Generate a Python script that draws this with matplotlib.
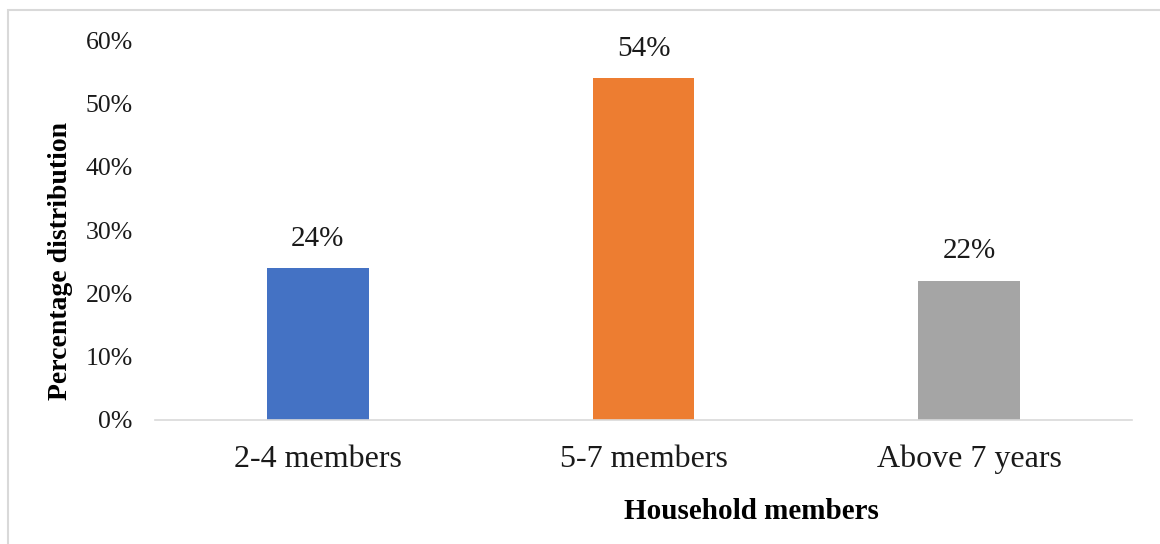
import matplotlib
matplotlib.use("Agg")
import matplotlib.pyplot as plt
from matplotlib.patches import Rectangle

# household size distribution
categories = ["2-4 members", "5-7 members", "Above 7 years"]
shares = [24, 54, 22]
bar_colors = ["#4472C4", "#ED7D31", "#A5A5A5"]
y_ticks = [0, 10, 20, 30, 40, 50, 60]

plt.rcParams['font.family'] = ['Liberation Serif', 'DejaVu Serif']

fig = plt.figure(figsize=(11.6, 5.44), dpi=100)
ax = fig.add_axes([155 / 1160, 1 - 420 / 544, 977 / 1160, 380 / 544])

x = range(len(categories))
ax.bar(x, shares, width=0.313, color=bar_colors)
for xi, v in zip(x, shares):
    ax.text(xi, v + 2.6, f"{v}%", ha="center", va="bottom", fontsize=21, color="#1a1a1a")

ax.set_xlim(-0.5, 2.5)
ax.set_ylim(0, 60)
ax.set_yticks(y_ticks)
ax.set_yticklabels([f"{t}%" for t in y_ticks], fontsize=18.5, color="#1a1a1a")
ax.set_xticks(list(x))
ax.set_xticklabels(categories, fontsize=23, color="#1a1a1a")
ax.tick_params(axis="y", length=0, pad=16)
ax.tick_params(axis="x", length=0, pad=18)

for side in ["top", "right", "left"]:
    ax.spines[side].set_visible(False)
ax.spines["bottom"].set_color("#d9d9d9")
ax.spines["bottom"].set_linewidth(1.2)

ax.set_ylabel("Percentage distribution", fontsize=20, fontweight="bold")
ax.yaxis.set_label_coords(-82 / 977, 0.418)
ax.set_xlabel("Household members", fontsize=21, fontweight="bold")
ax.xaxis.set_label_coords((751 - 155) / 977, -78 / 380)

# chart frame
fig.patches.append(Rectangle((8 / 1160, -0.1), 1.2, 1.1 - 10 / 544, transform=fig.transFigure,
                             fill=False, edgecolor="#d9d9d9", linewidth=1.5))

fig.savefig("out.png", dpi=100)
